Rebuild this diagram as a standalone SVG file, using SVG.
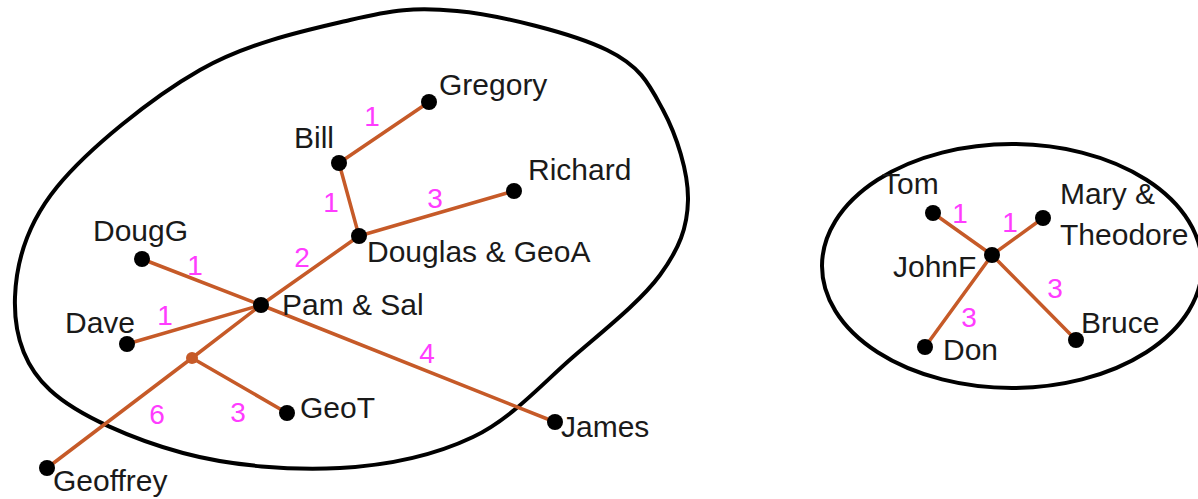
<svg xmlns="http://www.w3.org/2000/svg" width="1198" height="499" viewBox="0 0 1198 499">
<style>
.bound{fill:none;stroke:#000;stroke-width:4}
.edge{stroke:#C65A28;stroke-width:3.5;stroke-linecap:round;fill:none}
.dot{fill:#000}
.jn{fill:#C65A28}
.lbl{font-family:"Liberation Sans",Arial,sans-serif;font-size:30px;fill:#1a1a1a}
.w{font-family:"Liberation Sans",Arial,sans-serif;font-size:28px;fill:#FF3CFF;text-anchor:middle}
</style>
<rect width="1198" height="499" fill="#fff"/>
<g id="clusters">
<path class="bound" d="M457,11 C499.8,15 572.7,33.3 607,50 C641.3,66.7 649.5,85 663,110 C676.5,135 688.5,172.5 688,200 C687.5,227.5 679.2,248.8 660,275 C640.8,301.2 604.2,330 573,357 C541.8,384 511.8,418.5 473,437 C434.2,455.5 388.3,465.3 340,468 C291.7,470.7 231.3,466 183,453 C134.7,440 78,416 50,390 C22,364 13.8,330.8 15,297 C16.2,263.2 26.2,224.8 57,187 C87.8,149.2 151.2,97.8 200,70 C248.8,42.2 307.2,30 350,20 C392.8,10 414.2,7 457,11 Z"/>
<ellipse class="bound" cx="1012" cy="266" rx="190" ry="122"/>
</g>
<g id="connectors">
<line class="edge" x1="339" y1="163" x2="429" y2="102"/>
<line class="edge" x1="339" y1="163" x2="359" y2="236"/>
<line class="edge" x1="359" y1="236" x2="514" y2="191"/>
<line class="edge" x1="359" y1="236" x2="261" y2="305"/>
<line class="edge" x1="142" y1="259" x2="261" y2="305"/>
<line class="edge" x1="261" y1="305" x2="555" y2="422"/>
<line class="edge" x1="127" y1="344" x2="261" y2="305"/>
<line class="edge" x1="261" y1="305" x2="192" y2="358"/>
<line class="edge" x1="192" y1="358" x2="47" y2="468"/>
<line class="edge" x1="192" y1="358" x2="287" y2="413"/>
<line class="edge" x1="992" y1="255" x2="933" y2="213"/>
<line class="edge" x1="992" y1="255" x2="1043" y2="218"/>
<line class="edge" x1="992" y1="255" x2="925" y2="347"/>
<line class="edge" x1="992" y1="255" x2="1076" y2="340"/>
<circle class="jn" cx="192" cy="358" r="6"/>
<text class="w" x="372" y="126">1</text>
<text class="w" x="331" y="212">1</text>
<text class="w" x="435" y="208">3</text>
<text class="w" x="302" y="267">2</text>
<text class="w" x="195" y="275">1</text>
<text class="w" x="165" y="325">1</text>
<text class="w" x="427" y="363">4</text>
<text class="w" x="157" y="424">6</text>
<text class="w" x="238" y="422">3</text>
<text class="w" x="960" y="223">1</text>
<text class="w" x="1010" y="232">1</text>
<text class="w" x="1055" y="298">3</text>
<text class="w" x="969" y="327">3</text>
</g>
<g id="gregory"><circle class="dot" cx="429" cy="102" r="8"/><text class="lbl" x="439" y="95">Gregory</text></g>
<g id="bill"><circle class="dot" cx="339" cy="163" r="8"/><text class="lbl" x="294" y="148">Bill</text></g>
<g id="richard"><circle class="dot" cx="514" cy="191" r="8"/><text class="lbl" x="528" y="180">Richard</text></g>
<g id="douglas-geoa"><circle class="dot" cx="359" cy="236" r="8"/><text class="lbl" x="367" y="262">Douglas &amp; GeoA</text></g>
<g id="dougg"><circle class="dot" cx="142" cy="259" r="8"/><text class="lbl" x="93" y="241">DougG</text></g>
<g id="pam-sal"><circle class="dot" cx="261" cy="305" r="8"/><text class="lbl" x="282" y="315">Pam &amp; Sal</text></g>
<g id="dave"><circle class="dot" cx="127" cy="344" r="8"/><text class="lbl" x="65" y="333">Dave</text></g>
<g id="geot"><circle class="dot" cx="287" cy="413" r="8"/><text class="lbl" x="300" y="418">GeoT</text></g>
<g id="james"><circle class="dot" cx="555" cy="422" r="8"/><text class="lbl" x="561" y="437">James</text></g>
<g id="geoffrey"><circle class="dot" cx="47" cy="468" r="8"/><text class="lbl" x="53" y="491">Geoffrey</text></g>
<g id="tom"><circle class="dot" cx="933" cy="213" r="8"/><text class="lbl" x="882" y="194">Tom</text></g>
<g id="mary-theodore"><circle class="dot" cx="1043" cy="218" r="8"/><text class="lbl" x="1060" y="204">Mary &amp;</text><text class="lbl" x="1060" y="245">Theodore</text></g>
<g id="johnf"><circle class="dot" cx="992" cy="255" r="8"/><text class="lbl" x="893" y="277">JohnF</text></g>
<g id="don"><circle class="dot" cx="925" cy="347" r="8"/><text class="lbl" x="943" y="360">Don</text></g>
<g id="bruce"><circle class="dot" cx="1076" cy="340" r="8"/><text class="lbl" x="1081" y="333">Bruce</text></g>
</svg>
